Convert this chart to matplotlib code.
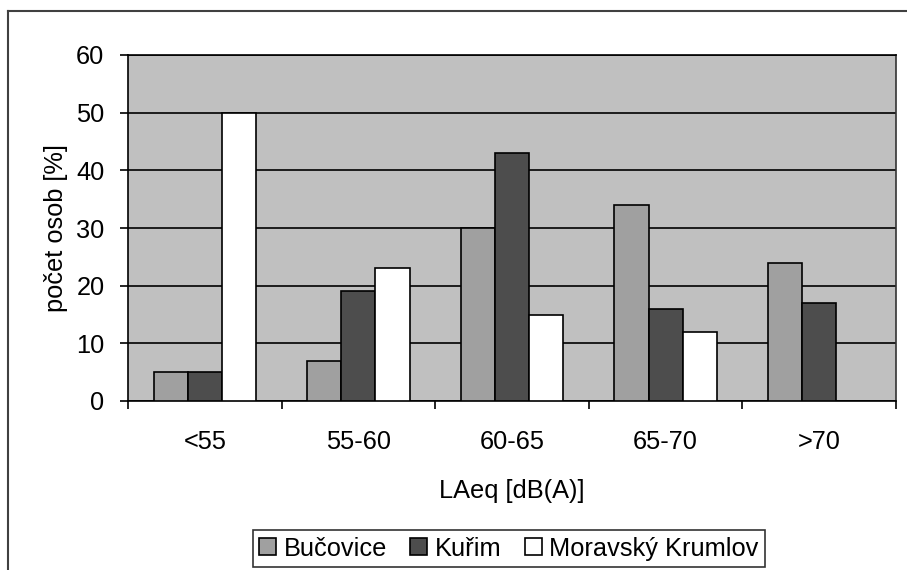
import matplotlib.pyplot as plt
import numpy as np
from matplotlib.lines import Line2D

# data
kategorie = ['<55', '55-60', '60-65', '65-70', '>70']
bucovice = [5, 7, 30, 34, 24]
kurim = [5, 19, 43, 16, 17]
moravsky_krumlov = [50, 23, 15, 12, 0]

serie = ['Bučovice', 'Kuřim', 'Moravský Krumlov']
barvy = ['#A0A0A0', '#4D4D4D', '#FFFFFF']

plt.rcParams['font.family'] = ['Liberation Sans', 'DejaVu Sans']
fs = 18.3

fig = plt.figure(figsize=(9.07, 5.70), dpi=100)
ax = fig.add_axes([128 / 907, 1 - 401 / 570, (896 - 128) / 907, (401 - 55) / 570])
ax.set_facecolor('#C0C0C0')

x = np.arange(len(kategorie))
w = 1 / 4.5
for i, (vals, barva) in enumerate(zip([bucovice, kurim, moravsky_krumlov], barvy)):
    ax.bar(x + (i - 1) * w, vals, width=w, color=barva, edgecolor='black',
           linewidth=1.2, label=serie[i], zorder=3)

ax.set_xlim(-0.5, 4.5)
ax.set_ylim(0, 60)
ax.set_yticks(range(0, 61, 10))
ax.yaxis.grid(True, color='black', linewidth=1.2, zorder=1)
ax.set_axisbelow(True)

# category labels in the middle, tick marks on the borders
ax.set_xticks(np.arange(-0.5, 5, 1))
ax.set_xticklabels([])
ax.set_xticks(x, minor=True)
ax.set_xticklabels(kategorie, minor=True)
ax.tick_params(axis='x', which='minor', length=0, pad=21, labelsize=fs)
ax.tick_params(axis='x', which='major', length=6, width=1.2, direction='out')
ax.tick_params(axis='y', length=6, width=1.2, direction='out', pad=11, labelsize=fs)

for s in ax.spines.values():
    s.set_color('black')
    s.set_linewidth(1.2)
ax.spines['right'].set_color('#333333')

ax.set_xlabel('LAeq [dB(A)]', fontsize=fs, labelpad=18)
ax.set_ylabel('počet osob [%]', fontsize=fs, labelpad=6)

leg = fig.legend(loc='lower center', bbox_to_anchor=(509 / 907, 3 / 570), ncol=3,
                 fontsize=fs, frameon=True, fancybox=False, shadow=False,
                 handlelength=0.67, handleheight=0.67, handletextpad=0.3,
                 columnspacing=0.9, borderpad=0.25, borderaxespad=0)
leg.get_frame().set_edgecolor('black')
leg.get_frame().set_linewidth(1.2)

# outer chart frame (only left and top edges are visible)
fig.add_artist(Line2D([8 / 907, 8 / 907], [0, 1 - 11 / 570], transform=fig.transFigure,
                      color='#404040', linewidth=1.5))
fig.add_artist(Line2D([8 / 907, 1], [1 - 11 / 570, 1 - 11 / 570], transform=fig.transFigure,
                      color='#404040', linewidth=1.5))

fig.savefig('out.png', dpi=100)
